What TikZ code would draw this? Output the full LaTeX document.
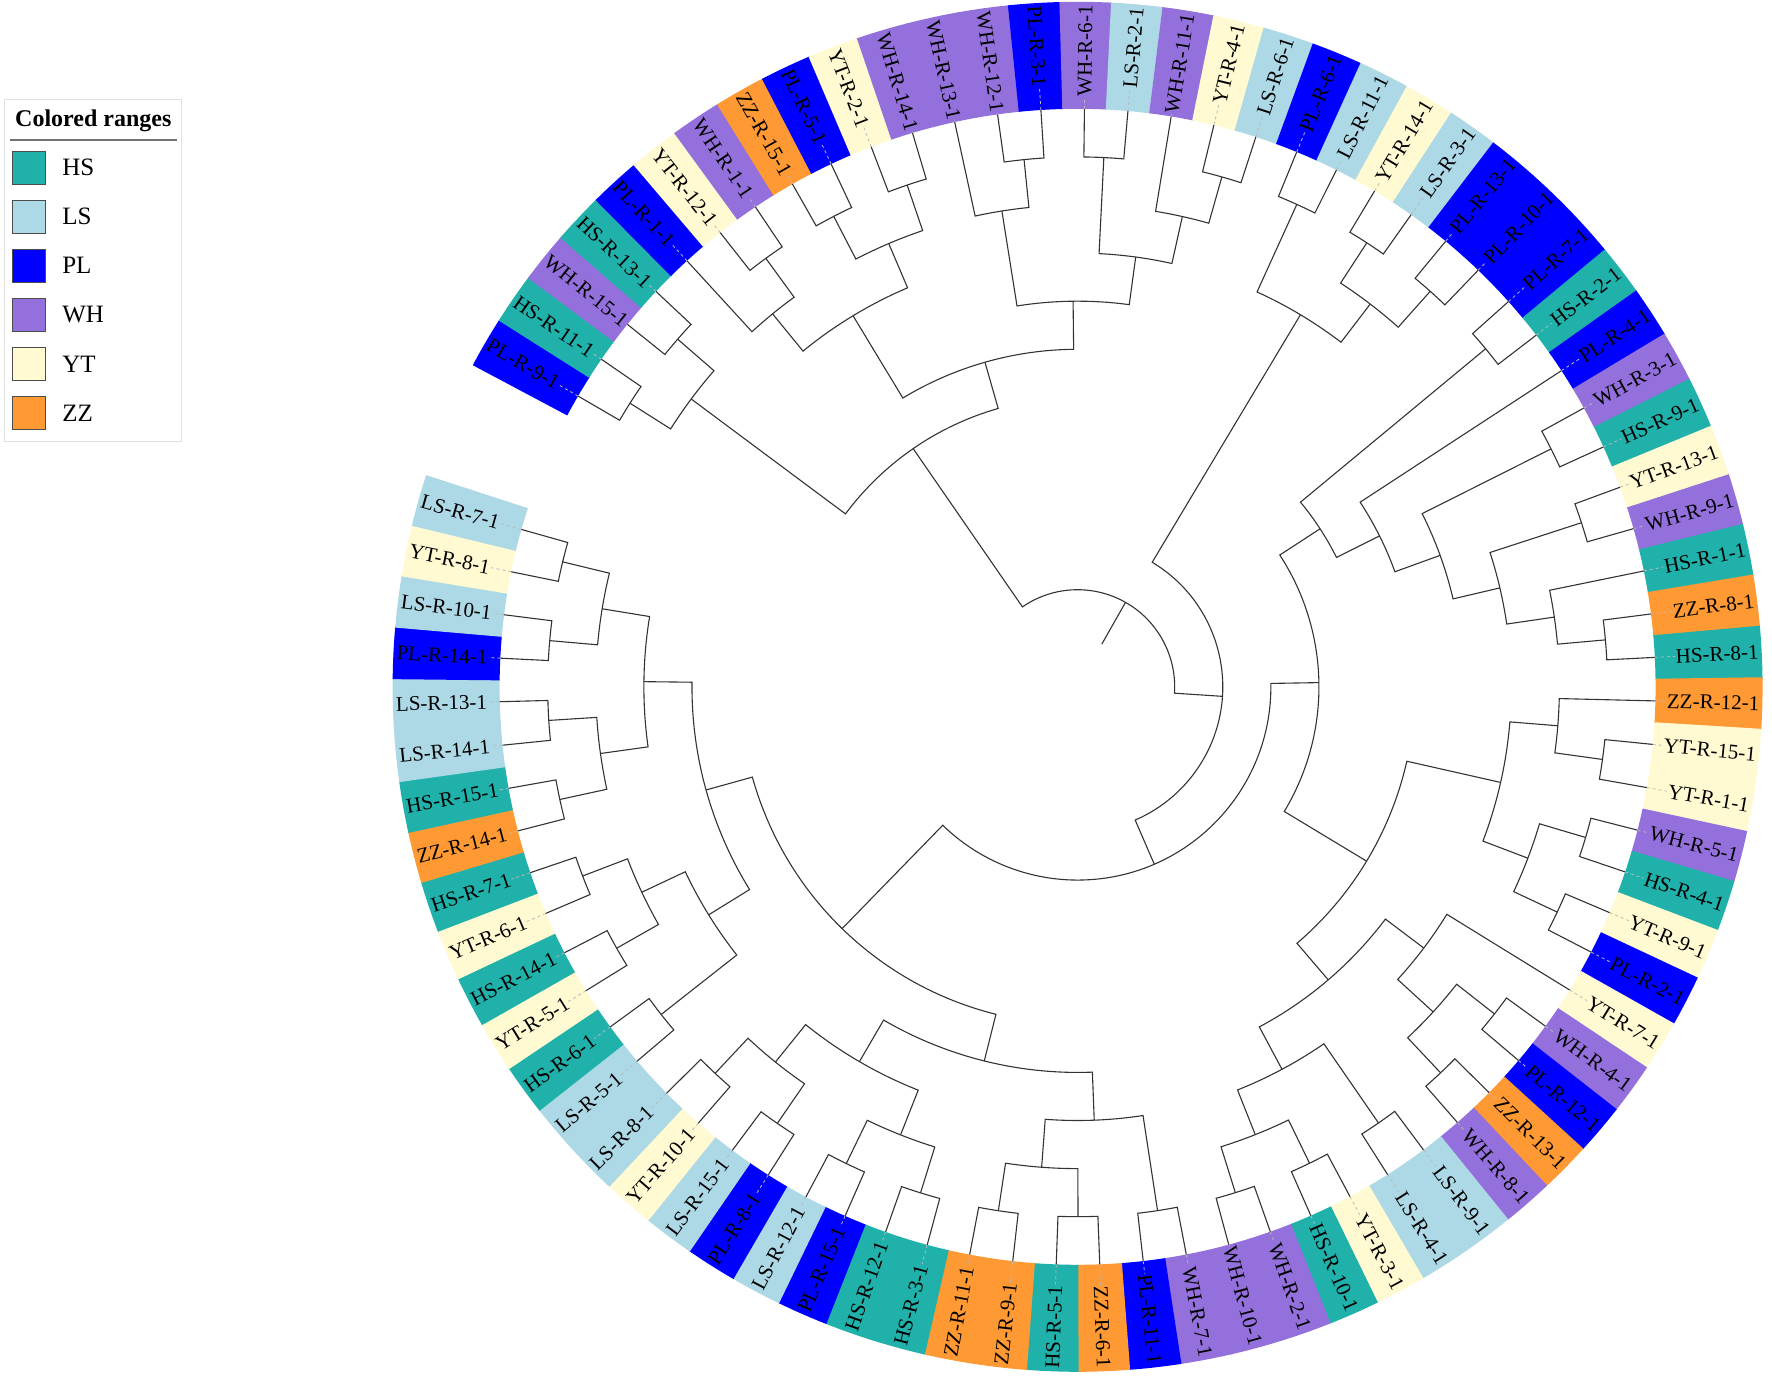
\documentclass[tikz,border=0pt]{standalone}
\usepackage{fontspec}
\setmainfont{Liberation Serif}
\usetikzlibrary{positioning}

\definecolor{HS}{HTML}{20B2AA}
\definecolor{LS}{HTML}{ADD8E6}
\definecolor{PL}{HTML}{0000FF}
\definecolor{WH}{HTML}{9370DB}
\definecolor{YT}{HTML}{FFFAD2}
\definecolor{ZZ}{HTML}{FF9933}

\tikzstyle{branch}=[draw, line width=1.1pt, color=black!80]
\tikzstyle{leader}=[draw, line width=0.8pt, color=gray!55, dash pattern=on 3pt off 3pt]
\tikzstyle{leaflabel}=[inner sep=1pt, font=\fontsize{21}{25}\selectfont]
\tikzstyle{swatch}=[draw=black!70, line width=0.8pt, minimum size=33, inner sep=0pt]
\tikzstyle{legtext}=[inner sep=0pt, font=\fontsize{25}{30}\selectfont]
\tikzstyle{legframe}=[draw=black!12, line width=1pt, fill=white, minimum width=177, minimum height=342]

% coloured sector behind one label: #1 angle, #2 colour
\newcommand{\ringbox}[2]{%
  \fill[#2] ({#1+2.2}:578) arc[start angle={#1+2.2}, end angle={#1-2.2}, radius=578]
    -- ({#1-2.2}:685) arc[start angle={#1-2.2}, end angle={#1+2.2}, radius=685] -- cycle;}

\begin{document}
\begin{tikzpicture}[x=1pt, y=1pt,
  declare function={leafang(\x)=149.8-(\x-1)*4.32; levrad(\x)=49+48.09*\x;}]
  \useasboundingbox (-1077.6,-695.2) rectangle (694.4,686.8);

  % Draw the label ring
  \foreach \i/\grp/\num [evaluate=\i as \a using 149.8-(\i-1)*4.32] in {
    1/PL/9, 2/HS/11, 3/WH/15, 4/HS/13, 5/PL/1, 6/YT/12, 7/WH/1, 8/ZZ/15,
    9/PL/5, 10/YT/2, 11/WH/14, 12/WH/13, 13/WH/12, 14/PL/3, 15/WH/6, 16/LS/2,
    17/WH/11, 18/YT/4, 19/LS/6, 20/PL/6, 21/LS/11, 22/YT/14, 23/LS/3, 24/PL/13,
    25/PL/10, 26/PL/7, 27/HS/2, 28/PL/4, 29/WH/3, 30/HS/9, 31/YT/13, 32/WH/9,
    33/HS/1, 34/ZZ/8, 35/HS/8, 36/ZZ/12, 37/YT/15, 38/YT/1, 39/WH/5, 40/HS/4,
    41/YT/9, 42/PL/2, 43/YT/7, 44/WH/4, 45/PL/12, 46/ZZ/13, 47/WH/8, 48/LS/9,
    49/LS/4, 50/YT/3, 51/HS/10, 52/WH/2, 53/WH/10, 54/WH/7, 55/PL/11, 56/ZZ/6,
    57/HS/5, 58/ZZ/9, 59/ZZ/11, 60/HS/3, 61/HS/12, 62/PL/15, 63/LS/12, 64/PL/8,
    65/LS/15, 66/YT/10, 67/LS/8, 68/LS/5, 69/HS/6, 70/YT/5, 71/HS/14, 72/YT/6,
    73/HS/7, 74/ZZ/14, 75/HS/15, 76/LS/14, 77/LS/13, 78/PL/14, 79/LS/10, 80/YT/8,
    81/LS/7} {
    \ringbox{\a}{\grp}
    \path[leader] (\a:578) -- (\a:680);
    \pgfmathsetmacro\rot{\a}\def\anc{east}
    \ifdim\a pt>90pt \pgfmathsetmacro\rot{\a+180}\def\anc{west}\fi
    \ifdim\a pt<-90pt \pgfmathsetmacro\rot{\a+180}\def\anc{west}\fi
    \node (lab\i) [leaflabel, fill=\grp, rotate=\rot, anchor=\anc] at (\a:683) {\grp-R-\num-1};
  }

  % Draw the tree: child1 pos/level, child2 pos/level, node level
  \foreach \pa/\la/\pb/\lb/\lv in {
    1/11/2/11/10, 3/11/4/11/10, 1.5/10/3.5/10/9,
    6/11/7/11/10, 5/11/6.5/10/9, 8/11/9/11/10, 10/11/11/11/10, 8.5/10/10.5/10/9, 5.75/9/9.5/9/8,
    13/11/14/11/10, 12/11/13.5/10/9, 15/11/16/11/10, 18/11/19/11/10, 17/11/18.5/10/9,
    15.5/10/17.75/9/8, 12.75/9/16.625/8/7,
    7.625/8/14.6875/7/6, 2.5/9/11.15625/6/5,
    20/11/21/11/10, 22/11/23/11/10, 24/11/25/11/10, 22.5/10/24.5/10/9, 20.5/10/23.5/9/8,
    26/11/27/11/10, 29/11/30/11/10, 31/11/32/11/10, 34/11/35/11/10, 33/11/34.5/10/9,
    31.5/10/33.75/9/8, 29.5/10/32.625/8/7, 28/11/31.0625/7/6, 26.5/10/29.53125/6/5,
    37/11/38/11/10, 36/11/37.5/10/9, 39/11/40/11/10, 41/11/42/11/10, 39.5/10/41.5/10/9,
    36.75/9/40.5/9/8,
    44/11/45/11/10, 46/11/47/11/10, 44.5/10/46.5/10/9, 43/11/45.5/9/8,
    48/11/49/11/10, 50/11/51/11/10, 52/11/53/11/10, 50.5/10/52.5/10/9, 48.5/10/51.5/9/8,
    44.25/8/50/8/7, 38.625/8/47.125/7/6, 28.015625/5/42.875/6/4,
    54/11/55/11/10, 56/11/57/11/10, 58/11/59/11/10, 56.5/10/58.5/10/9, 54.5/10/57.5/9/8,
    60/11/61/11/10, 62/11/63/11/10, 60.5/10/62.5/10/9, 64/11/65/11/10, 66/11/67/11/10,
    64.5/10/66.5/10/9, 61.5/9/65.5/9/8, 56/8/63.5/8/7,
    68/11/69/11/10, 70/11/71/11/10, 72/11/73/11/10, 70.5/10/72.5/10/9, 68.5/10/71.5/9/8,
    74/11/75/11/10, 76/11/77/11/10, 74.5/10/76.5/10/9, 78/11/79/11/10, 80/11/81/11/10,
    78.5/10/80.5/10/9, 75.5/9/79.5/9/8,
    70/8/77.5/8/7, 59.75/7/73.75/7/6,
    35.4453125/4/66.75/6/3, 22/8/51.09765625/3/2, 6.828125/5/36.548828125/2/1} {
    \path[branch] ({leafang(\pa)}:{levrad(\la)}) -- ({leafang(\pa)}:{levrad(\lv)})
      arc[start angle={leafang(\pa)}, end angle={leafang(\pb)}, radius={levrad(\lv)}]
      -- ({leafang(\pb)}:{levrad(\lb)});
  }
  % root stub
  \path[branch] ({leafang(21.6884765625)}:{levrad(0)}) -- ({leafang(21.6884765625)}:{levrad(1)});

  % Legend
  \node (legend) [legframe] at (-984.1,415.8) {};
  \node (legtitle) [inner sep=0pt, anchor=base west, font=\fontsize{24}{28}\selectfont\bfseries]
    at (-1062.6,560.1) {Colored ranges};
  \path[draw, line width=1.5pt, color=black!55] (-1067.6,546.8) -- (-900.6,546.8);
  \foreach \grp [count=\k] in {HS,LS,PL,WH,YT,ZZ} {
    \node (sw\grp) [swatch, fill=\grp] at (-1048.4,{519.3-(\k-1)*49.1}) {};
    \node (lt\grp) [legtext, right=16pt of sw\grp] {\grp};
  }
\end{tikzpicture}
\end{document}
